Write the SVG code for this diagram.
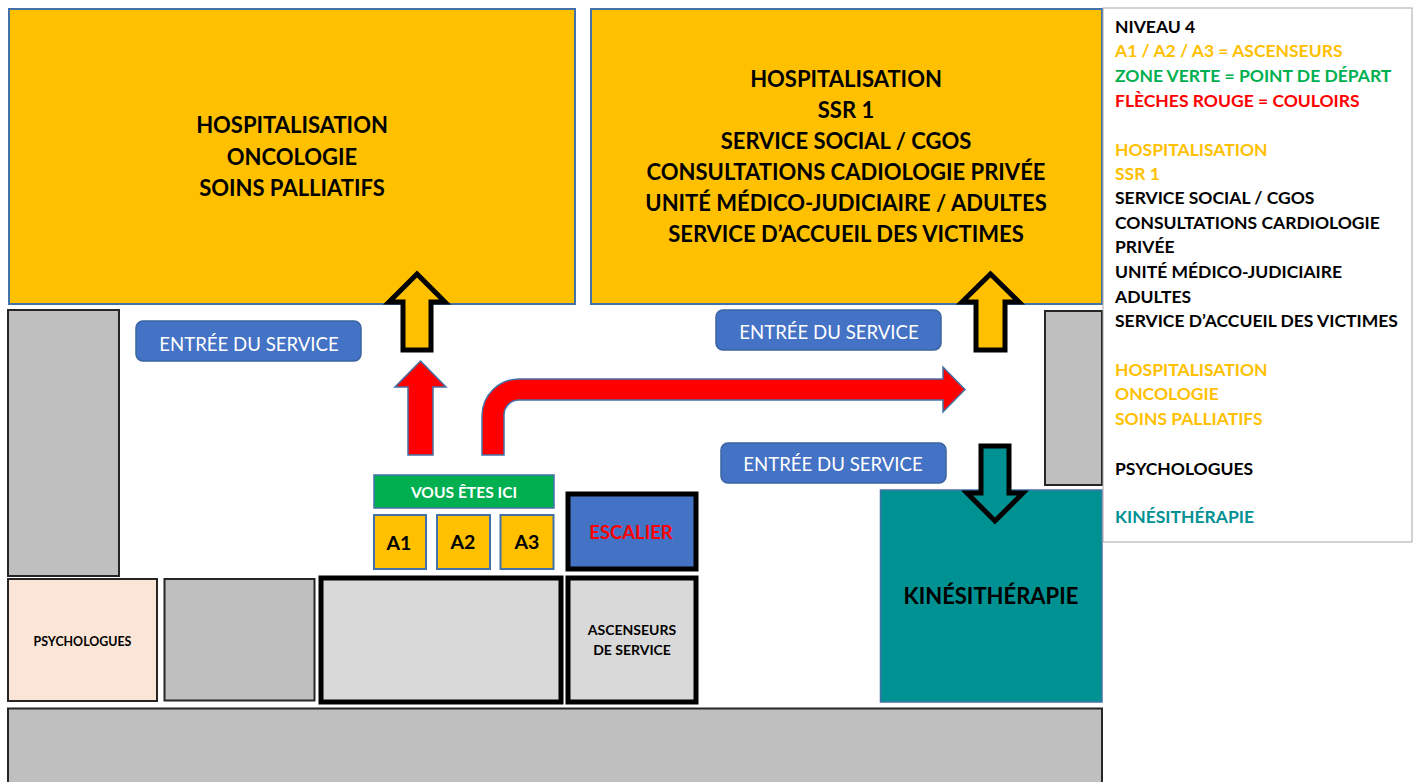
<svg xmlns="http://www.w3.org/2000/svg" width="1417" height="782" viewBox="0 0 1417 782">
<style>
text{font-family:Lato,"Liberation Sans",sans-serif;font-weight:700;text-anchor:middle;fill:#000}
.y{fill:#ffc000;stroke:#4472a8;stroke-width:2}
.g{fill:#bfbfbf;stroke:#262626;stroke-width:2}
.l{fill:#d9d9d9;stroke:#000;stroke-width:5}
.b{fill:#4472c4;stroke:#3a649f;stroke-width:1.5}
.big{font-size:22px}
.e{font-size:18.6px;font-weight:400;fill:#fff}
.a{font-size:19.5px}
.leg text{text-anchor:start;font-size:17.5px}
.o{fill:#ffc000}.gr{fill:#00b050}.r{fill:#f00}.t{fill:#009193}
.up{stroke:#000;stroke-width:5;stroke-linejoin:miter}
.red{fill:#f00;stroke:#4472a8;stroke-width:1.5}
</style>
<g id="hospit-onco"><rect class="y" x="9" y="9" width="566" height="295"/><text class="big" x="292" y="133">HOSPITALISATION</text><text class="big" x="292" y="165">ONCOLOGIE</text><text class="big" x="292" y="196">SOINS PALLIATIFS</text></g>
<g id="hospit-ssr"><rect class="y" x="591" y="9" width="511" height="295"/><text class="big" x="846" y="87">HOSPITALISATION</text><text class="big" x="846" y="118">SSR 1</text><text class="big" x="846" y="149">SERVICE SOCIAL / CGOS</text><text class="big" x="846" y="180">CONSULTATIONS CADIOLOGIE PRIVÉE</text><text class="big" x="846" y="211">UNITÉ MÉDICO-JUDICIAIRE / ADULTES</text><text class="big" x="846" y="242">SERVICE D’ACCUEIL DES VICTIMES</text></g>
<g id="gris-gauche"><rect class="g" x="8" y="310" width="111" height="266"/></g>
<g id="gris-droite"><rect class="g" x="1045" y="311" width="57" height="174"/></g>
<g id="entree-1"><rect class="b" x="136" y="321" width="225" height="40" rx="7"/><text class="e" x="249" y="351">ENTRÉE DU SERVICE</text></g>
<g id="entree-2"><rect class="b" x="716" y="310" width="225" height="40" rx="7"/><text class="e" x="829" y="339">ENTRÉE DU SERVICE</text></g>
<g id="entree-3"><rect class="b" x="721" y="443" width="225" height="40" rx="7"/><text class="e" x="833" y="471">ENTRÉE DU SERVICE</text></g>
<g id="vous-etes-ici"><rect x="374" y="475" width="180" height="33" fill="#00b050" stroke="#4472a8" stroke-width="1.5"/><text x="464" y="498" font-size="15.600" style="fill:#fff">VOUS ÊTES ICI</text></g>
<g id="a1"><rect class="y" x="374" y="515" width="52" height="54"/><text class="a" x="399" y="550">A1</text></g>
<g id="a2"><rect class="y" x="437" y="515" width="53" height="54"/><text class="a" x="463" y="549">A2</text></g>
<g id="a3"><rect class="y" x="500.500" y="515" width="53" height="54"/><text class="a" x="527" y="549">A3</text></g>
<g id="escalier"><rect x="568" y="494" width="128" height="75" fill="#4472c4" stroke="#000" stroke-width="5"/><text x="631" y="539" font-size="18.500" style="fill:#f00">ESCALIER</text></g>
<g id="psychologues"><rect x="8" y="579" width="149" height="122" fill="#fbe5d6" stroke="#262626" stroke-width="2"/><text x="82.500" y="646" font-size="12.400">PSYCHOLOGUES</text></g>
<g id="gris-milieu"><rect class="g" x="164.500" y="579" width="150" height="121.500"/></g>
<g id="bloc-central"><rect class="l" x="321" y="578" width="240" height="124"/></g>
<g id="ascenseurs-service"><rect class="l" x="568" y="578" width="128" height="124"/><text x="632" y="635" font-size="14">ASCENSEURS</text><text x="632" y="655" font-size="14">DE SERVICE</text></g>
<g id="kinesitherapie"><rect x="880.500" y="490" width="221.500" height="212" fill="#009193" stroke="#4472a8" stroke-width="1.500"/><text class="big" x="991" y="604">KINÉSITHÉRAPIE</text></g>
<g id="gris-bas"><rect class="g" x="8" y="708.500" width="1094" height="75"/></g>
<g id="legende" class="leg"><rect x="1103" y="8" width="309" height="534" fill="#fff" stroke="#a6a6a6" stroke-width="1"/>
<text x="1115" y="33">NIVEAU 4</text>
<text x="1115" y="57" class="o">A1 / A2 / A3 = ASCENSEURS</text>
<text x="1115" y="82" class="gr">ZONE VERTE = POINT DE DÉPART</text>
<text x="1115" y="107" class="r">FLÈCHES ROUGE = COULOIRS</text>
<text x="1115" y="156" class="o">HOSPITALISATION</text>
<text x="1115" y="180" class="o">SSR 1</text>
<text x="1115" y="204">SERVICE SOCIAL / CGOS</text>
<text x="1115" y="229">CONSULTATIONS CARDIOLOGIE</text>
<text x="1115" y="253">PRIVÉE</text>
<text x="1115" y="278">UNITÉ MÉDICO-JUDICIAIRE</text>
<text x="1115" y="303">ADULTES</text>
<text x="1115" y="327">SERVICE D’ACCUEIL DES VICTIMES</text>
<text x="1115" y="376" class="o">HOSPITALISATION</text>
<text x="1115" y="400" class="o">ONCOLOGIE</text>
<text x="1115" y="425" class="o">SOINS PALLIATIFS</text>
<text x="1115" y="475">PSYCHOLOGUES</text>
<text x="1115" y="523" class="t">KINÉSITHÉRAPIE</text></g>
<g id="connecteurs">
<path class="up" fill="#ffc000" d="M417 274 L445 302 L431 302 L431 350 L403 350 L403 302 L389 302Z"/>
<path class="up" fill="#ffc000" d="M990.500 274 L1019 302 L1005 302 L1005 350 L976 350 L976 302 L962 302Z"/>
<path class="up" fill="#009193" d="M981 446 L1009 446 L1009 493 L1023 493 L995 521 L967 493 L981 493Z"/>
<path class="red" d="M420.500 361 L446 387 L433 387 L433 455 L408 455 L408 387 L395 387Z"/>
<path class="red" d="M482 455 L482 416 A37 37 0 0 1 519 379 L943 379 L943 367 L965 389.500 L943 412 L943 400 L519 400 A15 15 0 0 0 504 415 L504 455Z"/>
</g>
</svg>
